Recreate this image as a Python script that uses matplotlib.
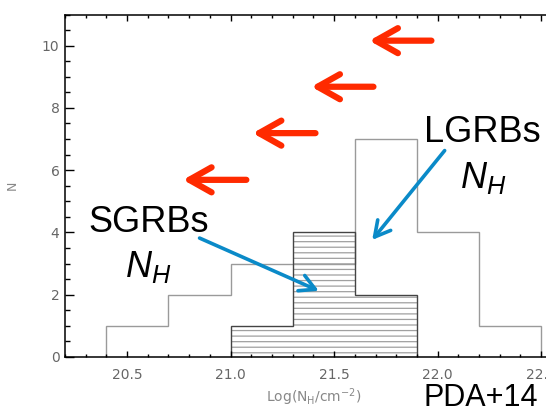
import numpy as np
import matplotlib
matplotlib.use("Agg")
import matplotlib.pyplot as plt
from matplotlib.ticker import MultipleLocator

plt.rcParams["font.family"] = "DejaVu Sans"
plt.rcParams["mathtext.fontset"] = "custom"
plt.rcParams["mathtext.rm"] = "Liberation Sans"
plt.rcParams["mathtext.it"] = "Liberation Sans:italic"
plt.rcParams["hatch.linewidth"] = 0.9

# histogram data (log NH bins, 0.3 dex wide)
lgrb_edges = [20.4, 20.7, 21.0, 21.3, 21.6, 21.9, 22.2, 22.5]
lgrb_counts = [1, 2, 3, 3, 7, 4, 1]
sgrb_edges = [21.0, 21.3, 21.6, 21.9]
sgrb_counts = [1, 4, 2]

# red "shift" arrows: (head x, tail x, y)
red_heads = [21.67, 21.39, 21.107, 20.77]
red_tails = [21.97, 21.69, 21.41, 21.076]
red_y = [10.16, 8.68, 7.19, 5.69]

# blue pointer arrows: tail -> head
blue_tails = [(20.85, 3.82), (22.034, 6.63)]
blue_heads = [(21.426, 2.125), (21.684, 3.76)]

fig = plt.figure(figsize=(5.46, 4.11), dpi=100)
ax = fig.add_axes([0.119, 0.1314, 0.91, 0.8333])

ax.stairs(lgrb_counts, lgrb_edges, color="#9a9a9a", lw=1.0)
ax.stairs(sgrb_counts, sgrb_edges, fill=True, facecolor="none",
          edgecolor="#a0a0a0", hatch="---", lw=0)
ax.stairs(sgrb_counts, sgrb_edges, color="#444444", lw=1.0)

ax.set_xlim(20.2, 22.6)
ax.set_ylim(0, 11)
ax.xaxis.set_major_locator(MultipleLocator(0.5))
ax.xaxis.set_minor_locator(MultipleLocator(0.1))
ax.yaxis.set_major_locator(MultipleLocator(2))
ax.yaxis.set_minor_locator(MultipleLocator(0.5))
ax.xaxis.set_major_formatter(matplotlib.ticker.FormatStrFormatter("%.1f"))

ax.tick_params(axis="both", which="both", direction="in", top=True, right=True,
               colors="black", labelcolor="#666666", labelsize=10, width=1.0)
ax.tick_params(axis="x", which="major", length=4.5, pad=8)
ax.tick_params(axis="x", which="minor", length=2.2)
ax.tick_params(axis="y", which="major", length=6.5, pad=4)
ax.tick_params(axis="y", which="minor", length=3.5)
for s in ax.spines.values():
    s.set_linewidth(1.1)

ax.set_xlabel("Log(N$_\\mathregular{H}$/cm$^\\mathregular{-2}$)", fontsize=10,
              color="#888888", labelpad=3)
ax.set_ylabel("N", fontsize=9, color="#888888")
ax.yaxis.set_label_coords(-0.093, 0.5)

for hx, tx, y in zip(red_heads, red_tails, red_y):
    ax.annotate("", xy=(hx, y), xytext=(tx, y),
                arrowprops=dict(arrowstyle="->,head_length=1.6,head_width=0.9",
                                color="#ff2a00", lw=4.5, mutation_scale=10,
                                capstyle="round", joinstyle="round",
                                shrinkA=0, shrinkB=0))

for (tx, ty), (hx, hy) in zip(blue_tails, blue_heads):
    ax.annotate("", xy=(hx, hy), xytext=(tx, ty),
                arrowprops=dict(arrowstyle="->,head_length=1.1,head_width=0.6",
                                color="#0a8ac8", lw=2.6, mutation_scale=10,
                                shrinkA=0, shrinkB=0))

big = dict(family="Liberation Sans", fontsize=26, color="black", ha="center",
           va="baseline")
ax.text(20.606, 4.03, "SGRBs", **big)
ax.text(20.603, 2.58, "$N_H$", **big)
ax.text(22.215, 6.92, "LGRBs", **big)
ax.text(22.222, 5.44, "$N_H$", **big)

fig.text(0.775, 0.012, "PDA+14", family="Liberation Sans", fontsize=22,
         va="baseline", ha="left")

fig.savefig("out.png", dpi=100)
